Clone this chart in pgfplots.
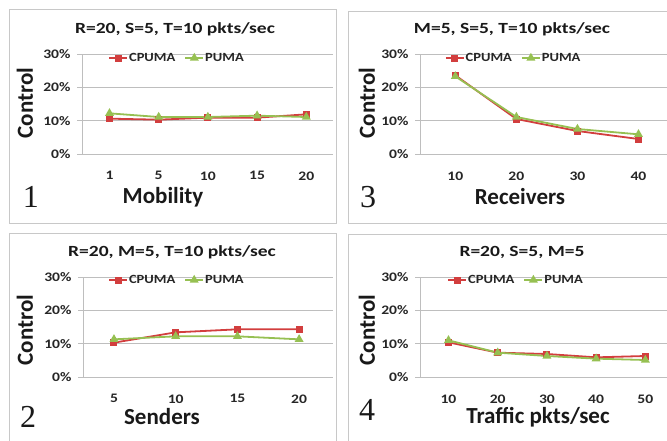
\documentclass[border=0pt]{standalone}
\usepackage{graphicx}
\usepackage{pgfplots}
\pgfplotsset{compat=1.18}
\usepackage{fontspec}
\setmainfont{Carlito}
\newfontfamily\numfont{Liberation Serif}
\newcommand\wx[1]{\scalebox{1.2}[1]{#1}}
\newcommand\wl[1]{\scalebox{1.16}[1]{#1}}
\newcommand\wt[1]{\scalebox{1.26}[1]{#1}}
\definecolor{cred}{RGB}{210,62,62}
\definecolor{cgreen}{RGB}{150,192,82}
\definecolor{gridg}{RGB}{190,190,190}
\definecolor{boxg}{RGB}{200,200,200}
\pgfplotsset{
  panel/.style={
    anchor=south west, scale only axis, height=100pt,
    ymin=0, ymax=30, ytick={0,10,20,30}, yticklabels={\wx{0\%},\wx{10\%},\wx{20\%},\wx{30\%}},
    xtick={0,...,6},
    axis x line*=bottom, axis y line*=left,
    axis line style={gridg, line width=0.8pt},
    ymajorgrids, grid style={gridg, line width=0.8pt},
    tick align=outside, major tick length=5pt,
    ytick style={gridg, line width=0.8pt}, xtick style={draw=none},
    ticklabel style={font=\fontsize{13}{15}\selectfont\bfseries, text=black!85},
    xticklabel style={yshift=-9pt},
    yticklabel style={xshift=-3pt},
    legend columns=2,
    legend style={draw=none, fill=none, anchor=west, inner sep=0pt,
      font=\fontsize{12.5}{14}\selectfont\bfseries, text=black!85,
      /tikz/every even column/.append style={column sep=8pt},
      nodes={inner sep=1pt}},
    legend image code/.code={\draw[mark repeat=2,mark phase=2] plot coordinates {(0pt,0pt)(9pt,0pt)(18pt,0pt)};},
    clip=false,
  },
  cp/.style={cred, line width=1.8pt, mark=square*, mark size=2.6pt, mark options={solid}},
  pu/.style={cgreen, line width=1.8pt, mark=triangle*, mark size=3.4pt, mark options={solid}},
}
\begin{document}
\begin{tikzpicture}[x=1pt,y=1pt]
\useasboundingbox (0,0) rectangle (667,440);
% panel boxes
\draw[boxg, line width=1pt] (9,217) rectangle (336,430);
\draw[boxg, line width=1pt] (348,217) rectangle (672,428);
\draw[boxg, line width=1pt] (9,-5) rectangle (336,207);
\draw[boxg, line width=1pt] (348,-5) rectangle (672,206);

% Panel 1
\begin{axis}[panel, at={(82pt,286pt)}, width=251pt,
  xmin=-0.559, xmax=4.543, xticklabels={\wx{1},\wx{5},\wx{10},\wx{15},\wx{20}},
  legend style={at={(0.104,0.96)}}]
\addplot[cp] coordinates {(0,10.6) (1,10.3) (2,10.9) (3,10.9) (4,11.9)};
\addplot[pu] coordinates {(0,12.2) (1,11.1) (2,11.1) (3,11.5) (4,11.1)};
\legend{\wl{CPUMA},\wl{PUMA}}
\end{axis}

% Panel 3
\begin{axis}[panel, at={(420pt,286pt)}, width=247pt,
  xmin=-0.579, xmax=3.467, xticklabels={\wx{10},\wx{20},\wx{30},\wx{40}},
  legend style={at={(0.10,0.96)}}]
\addplot[cp] coordinates {(0,23.6) (1,10.5) (2,6.9) (3,4.5)};
\addplot[pu] coordinates {(0,23.3) (1,11.1) (2,7.5) (3,5.9)};
\legend{\wl{CPUMA},\wl{PUMA}}
\end{axis}

% Panel 2
\begin{axis}[panel, at={(83pt,63pt)}, width=250pt,
  xmin=-0.502, xmax=3.549, xticklabels={\wx{5},\wx{10},\wx{15},\wx{20}},
  legend style={at={(0.10,0.97)}}]
\addplot[cp] coordinates {(0,10.3) (1,13.4) (2,14.3) (3,14.3)};
\addplot[pu] coordinates {(0,11.3) (1,12.2) (2,12.2) (3,11.3)};
\legend{\wl{CPUMA},\wl{PUMA}}
\end{axis}

% Panel 4
\begin{axis}[panel, at={(420pt,63pt)}, width=247pt,
  xmin=-0.579, xmax=4.44, xticklabels={\wx{10},\wx{20},\wx{30},\wx{40},\wx{50}},
  legend style={at={(0.11,0.97)}}]
\addplot[cp] coordinates {(0,10.4) (1,7.3) (2,6.9) (3,5.9) (4,6.3)};
\addplot[pu] coordinates {(0,11.0) (1,7.3) (2,6.3) (3,5.5) (4,5.1)};
\legend{\wl{CPUMA},\wl{PUMA}}
\end{axis}

% titles
\tikzset{ttl/.style={font=\fontsize{15.5}{17}\selectfont\bfseries, text=black!90, anchor=base},
  lbl/.style={font=\fontsize{23}{25}\selectfont\bfseries, text=black!90},
  num/.style={font=\numfont\fontsize{32}{34}\selectfont, text=black!90, anchor=base}}
\node[ttl] at (175,406) {\wt{R=20, S=5, T=10 pkts/sec}};
\node[ttl] at (512,406) {\wt{M=5, S=5, T=10 pkts/sec}};
\node[ttl] at (172,184) {\wt{R=20, M=5, T=10 pkts/sec}};
\node[ttl] at (522,184) {\wt{R=20, S=5, M=5}};
% y labels
\node[lbl, rotate=90] at (25,337) {Control};
\node[lbl, rotate=90] at (367,337) {Control};
\node[lbl, rotate=90] at (25,110) {Control};
\node[lbl, rotate=90] at (367,110) {Control};
% x labels
\node[lbl] at (163,243) {Mobility};
\node[lbl] at (520,243) {Receivers};
\node[lbl] at (162,23) {Senders};
\node[lbl] at (538,23) {Traffic pkts/sec};
% panel numbers
\node[num] at (31,233) {1};
\node[num] at (368,233) {3};
\node[num] at (28,13) {2};
\node[num] at (367,20) {4};
\end{tikzpicture}
\end{document}
